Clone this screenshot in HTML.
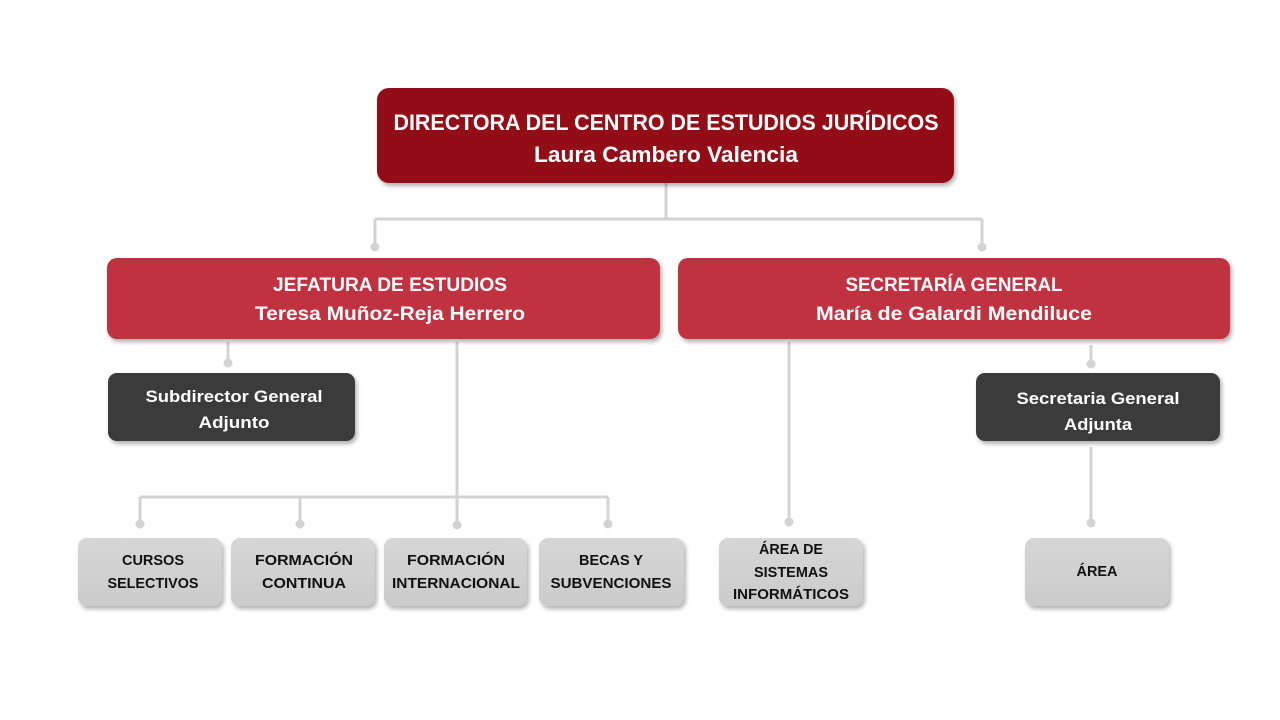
<!DOCTYPE html>
<html><head><meta charset="utf-8"><style>
html,body{margin:0;padding:0;background:#fff;width:1280px;height:720px;overflow:hidden}
svg text{font-family:"Liberation Sans",sans-serif;font-weight:bold;text-anchor:middle}
</style></head><body>
<svg width="1280" height="720" viewBox="0 0 1280 720" xmlns="http://www.w3.org/2000/svg">
<defs>
<filter id="sh" x="-10%" y="-10%" width="130%" height="140%"><feDropShadow dx="2" dy="3" stdDeviation="2" flood-color="#000" flood-opacity="0.3"/></filter>
<linearGradient id="gg" x1="0" y1="0" x2="0" y2="1"><stop offset="0" stop-color="#d6d6d6"/><stop offset="1" stop-color="#cbcbcb"/></linearGradient>
</defs>
<g stroke="#d3d3d3" stroke-width="3" fill="none">
<path d="M666 183V219M375 219H982M375 219V247M982 219V247"/>
<path d="M228 342V363"/>
<path d="M457 342V525M140 497H608M140 497V524M300 497V524M608 497V524"/>
<path d="M789 342V522"/>
<path d="M1091 345V364M1091 447V523"/>
</g>
<g fill="#d3d3d3">
<circle cx="375" cy="247" r="4.5"/><circle cx="982" cy="247" r="4.5"/>
<circle cx="228" cy="363" r="4.5"/><circle cx="457" cy="525" r="4.5"/>
<circle cx="140" cy="524" r="4.5"/><circle cx="300" cy="524" r="4.5"/><circle cx="608" cy="524" r="4.5"/>
<circle cx="789" cy="522" r="4.5"/><circle cx="1091" cy="364" r="4.5"/><circle cx="1091" cy="523" r="4.5"/>
</g>
<g filter="url(#sh)">
<rect x="377" y="88" width="577" height="95" rx="12" fill="#921019"/>
<rect x="107" y="258" width="553" height="81" rx="10" fill="#c0333f"/>
<rect x="678" y="258" width="552" height="81" rx="10" fill="#c0333f"/>
<rect x="108" y="373" width="247" height="68" rx="9" fill="#3b3b3b"/>
<rect x="976" y="373" width="244" height="68" rx="9" fill="#3b3b3b"/>
<rect x="78" y="538" width="144" height="68" rx="9" fill="url(#gg)"/>
<rect x="231" y="538" width="144" height="68" rx="9" fill="url(#gg)"/>
<rect x="384" y="538" width="143" height="68" rx="9" fill="url(#gg)"/>
<rect x="539" y="538" width="145" height="68" rx="9" fill="url(#gg)"/>
<rect x="719" y="538" width="144" height="68" rx="9" fill="url(#gg)"/>
<rect x="1025" y="538" width="144" height="68" rx="9" fill="url(#gg)"/>
</g>
<g fill="#fff">
<text x="666" y="130" font-size="22" textLength="545" lengthAdjust="spacingAndGlyphs">DIRECTORA DEL CENTRO DE ESTUDIOS JURÍDICOS</text>
<text x="666" y="162" font-size="22" textLength="264" lengthAdjust="spacingAndGlyphs">Laura Cambero Valencia</text>
<text x="390" y="291" font-size="19" textLength="234" lengthAdjust="spacingAndGlyphs">JEFATURA DE ESTUDIOS</text>
<text x="390" y="320" font-size="19" textLength="270" lengthAdjust="spacingAndGlyphs">Teresa Muñoz-Reja Herrero</text>
<text x="954" y="291" font-size="19" textLength="217" lengthAdjust="spacingAndGlyphs">SECRETARÍA GENERAL</text>
<text x="954" y="320" font-size="19" textLength="276" lengthAdjust="spacingAndGlyphs">María de Galardi Mendiluce</text>
<text x="234" y="402" font-size="17" textLength="177" lengthAdjust="spacingAndGlyphs">Subdirector General</text>
<text x="234" y="428" font-size="17" textLength="71" lengthAdjust="spacingAndGlyphs">Adjunto</text>
<text x="1098" y="404" font-size="17" textLength="163" lengthAdjust="spacingAndGlyphs">Secretaria General</text>
<text x="1098" y="430" font-size="17" textLength="68" lengthAdjust="spacingAndGlyphs">Adjunta</text>
</g>
<g fill="#111" font-size="15">
<text x="153" y="565" textLength="62" lengthAdjust="spacingAndGlyphs">CURSOS</text>
<text x="153" y="588" textLength="91" lengthAdjust="spacingAndGlyphs">SELECTIVOS</text>
<text x="304" y="565" textLength="98" lengthAdjust="spacingAndGlyphs">FORMACIÓN</text>
<text x="304" y="588" textLength="84" lengthAdjust="spacingAndGlyphs">CONTINUA</text>
<text x="456" y="565" textLength="98" lengthAdjust="spacingAndGlyphs">FORMACIÓN</text>
<text x="456" y="588" textLength="128" lengthAdjust="spacingAndGlyphs">INTERNACIONAL</text>
<text x="611" y="565" textLength="64" lengthAdjust="spacingAndGlyphs">BECAS Y</text>
<text x="611" y="588" textLength="121" lengthAdjust="spacingAndGlyphs">SUBVENCIONES</text>
<text x="791" y="554" textLength="64" lengthAdjust="spacingAndGlyphs">ÁREA DE</text>
<text x="791" y="577" textLength="74" lengthAdjust="spacingAndGlyphs">SISTEMAS</text>
<text x="791" y="599" textLength="116" lengthAdjust="spacingAndGlyphs">INFORMÁTICOS</text>
<text x="1097" y="576" textLength="41" lengthAdjust="spacingAndGlyphs">ÁREA</text>
</g>
</svg>
</body></html>
